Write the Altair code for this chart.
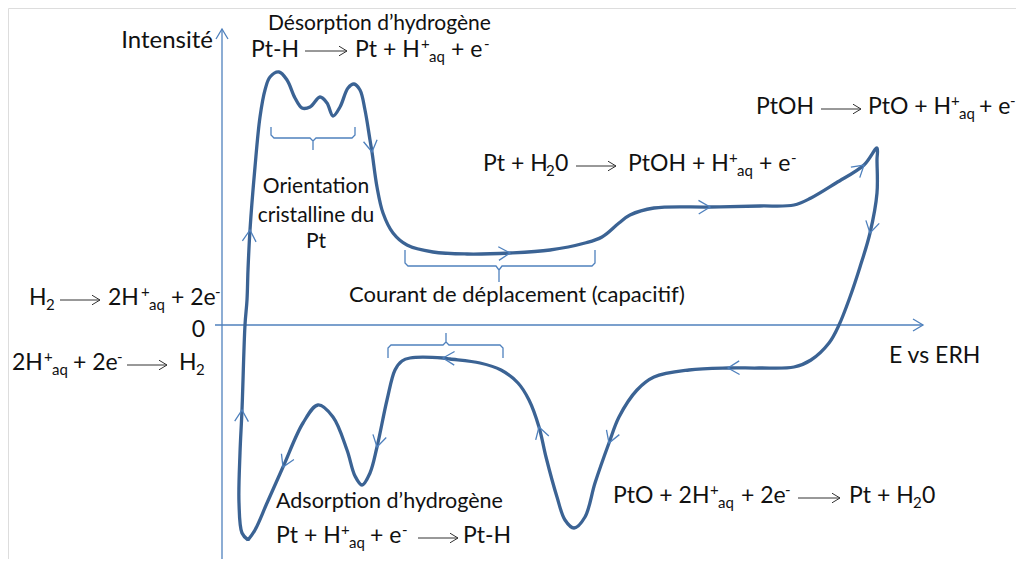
import math
import altair as alt
import pandas as pd

# ---------------------------------------------------------------
# Data (units: potential E and current I, origin at the axes crossing)
# ---------------------------------------------------------------
curve_E = [26, 20, 17, 18, 20, 23, 25, 26, 28, 33, 38, 43, 48, 57, 65, 73, 80, 88, 98, 105,
           111, 118, 126, 132, 138, 143, 148, 150, 155, 161, 171, 185, 211, 245, 288, 328, 363, 380, 397, 408,
           432, 488, 538, 572, 589, 614, 642, 655, 655, 655, 648, 638, 628, 617, 607, 589, 572, 537, 506, 467,
           432, 415, 397, 387, 373, 363, 352, 343, 335, 324, 317, 307, 296, 279, 258, 228, 221, 188, 180, 173,
           165, 155, 148, 140, 133, 125, 111, 96, 81, 61, 45, 33, 26]
curve_I = [-215, -208, -178, -128, -85, 0, 25, 55, 95, 158, 208, 235, 248, 253, 245, 227, 217, 218, 228, 222,
           209, 218, 237, 241, 235, 215, 185, 173, 138, 112, 92, 80, 73, 71, 72, 75, 82, 88, 102, 110,
           117, 118, 119, 120, 127, 142, 160, 177, 165, 132, 92, 58, 28, 0, -18, -35, -42, -43, -43, -45,
           -52, -65, -92, -118, -158, -192, -203, -195, -172, -132, -102, -75, -58, -45, -38, -34, -33, -33, -36, -45,
           -75, -122, -148, -160, -151, -125, -92, -80, -98, -142, -178, -205, -215]
arrow_at = [4, 8, 27, 34, 41, 46, 50, 58, 63, 70, 76, 81, 89]

# braces
brace_id = [1] * 11 + [2] * 11 + [3] * 11
brace_E = [49, 49, 52, 88, 91, 91, 91, 94, 130, 133, 133,
           183, 183, 186, 274, 277, 277, 277, 280, 370, 373, 373,
           166, 166, 169, 221, 224, 224, 224, 227, 278, 281, 281]
brace_I = [198, 190, 187, 187, 184, 175, 184, 187, 187, 190, 198,
           75, 62, 59, 59, 55, 43, 55, 59, 59, 62, 75,
           -33, -23, -20, -20, -17, -8, -17, -20, -20, -23, -33]

# axes
axis_E1 = [0, -7]
axis_E2 = [0, 701]
axis_I1 = [-242, 0]
axis_I2 = [296, 0]
axis_tip_E = [0, 701]
axis_tip_I = [296, 0]
axis_tip_ang = [270, 0]

# reaction equations: baselines of the lines
line_base = [268, 154, 211, 20, -45, -218, -178]
seg_line = [0, 0, 0, 0, 0, 0,
            1, 1, 1, 1, 1, 1, 1, 1,
            2, 2, 2, 2, 2, 2,
            3, 3, 3, 3, 3, 3, 3,
            4, 4, 4, 4, 4, 4, 4,
            5, 5, 5, 5, 5, 5,
            6, 6, 6, 6, 6, 6, 6, 6]
seg_text = ["Pt-H", "Pt + H", "+", "aq", "+ e", "-",
            "Pt + H", "2", "0", "PtOH + H", "+", "aq", "+ e", "-",
            "PtOH", "PtO + H", "+", "aq", "+ e", "-",
            "H", "2", "2H", "+", "aq", "+ 2e", "-",
            "2H", "+", "aq", "+ 2e", "-", "H", "2",
            "Pt + H", "+", "aq", "+ e", "-", "Pt-H",
            "PtO + 2H", "+", "aq", "+ 2e", "-", "Pt + H", "2", "0"]
seg_role = ["n", "n", "sup", "sub", "n", "sup",
            "n", "sub", "n", "n", "sup", "sub", "n", "sup",
            "n", "n", "sup", "sub", "n", "sup",
            "n", "sub", "n", "sup", "sub", "n", "sup",
            "n", "sup", "sub", "n", "sup", "n", "sub",
            "n", "sup", "sub", "n", "sup", "n",
            "n", "sup", "sub", "n", "sup", "n", "sub", "n"]
seg_E = [29, 133, 199, 207, 229, 262,
         261, 324, 333, 406, 507, 515, 537, 569,
         534, 646, 729, 737, 757, 788,
         -193, -176, -114, -81, -73, -51, -7,
         -210, -178, -170, -149, -105, -43, -26,
         54, 119, 127, 148, 180, 241,
         391, 488, 496, 519, 563, 627, 691, 700]

# reaction arrows inside the equations
rx_E1 = [83, 354, 599, -162, -95, 196, 576]
rx_E2 = [125, 394, 639, -122, -55, 236, 618]
rx_I = [274, 159, 216, 25, -40, -213, -173]

# free labels
lab_text = ["Désorption d’hydrogène", "Courant de déplacement (capacitif)",
            "Adsorption d’hydrogène", "E vs ERH"]
lab_E = [46, 127, 54, 667]
lab_I = [295, 23, -183, -38]
lab_size = [21, 22, 21.5, 23]

cen_text = ["Orientation", "cristalline du", "Pt"]
cen_E = [94, 94, 94]
cen_I = [132, 103, 77]

right_text = ["Intensité", "0"]
right_E = [-9, -17]
right_I = [277, -12]
right_size = [24, 23]

# ---------------------------------------------------------------
FONT = "Lato"
CURVE = "#3b6394"
LIGHT = "#4f81bd"
INK = "#111111"

xs = alt.Scale(domain=[-214, 794], nice=False, zero=False)
ys = alt.Scale(domain=[-234, 317], nice=False, zero=False)


def X(f):
    return alt.X(f, type="quantitative", scale=xs, axis=None)


def Y(f):
    return alt.Y(f, type="quantitative", scale=ys, axis=None)


curve_df = pd.DataFrame({"E": curve_E, "I": curve_I, "k": range(len(curve_E))})

arr_rows = []
for i in arrow_at:
    dx = curve_E[i + 1] - curve_E[i - 1]
    dy = -(curve_I[i + 1] - curve_I[i - 1])
    ang = math.degrees(math.atan2(dy, dx)) % 360
    arr_rows.append({"E": curve_E[i], "I": curve_I[i], "ang": ang})
arr_df = pd.DataFrame(arr_rows)

brace_df = pd.DataFrame({"b": brace_id, "E": brace_E, "I": brace_I,
                         "k": range(len(brace_E))})
axis_df = pd.DataFrame({"E1": axis_E1, "E2": axis_E2, "I1": axis_I1, "I2": axis_I2})
tip_df = pd.DataFrame({"E": axis_tip_E, "I": axis_tip_I, "ang": axis_tip_ang})

size_map = {"n": 23, "sup": 15, "sub": 15}
off_map = {"n": 0, "sup": 8, "sub": -5}
seg_df = pd.DataFrame({
    "t": seg_text,
    "E": seg_E,
    "I": [line_base[l] + off_map[r] for l, r in zip(seg_line, seg_role)],
    "fs": [size_map[r] for r in seg_role],
})
rx_df = pd.DataFrame({"E1": rx_E1, "E2": rx_E2, "I": rx_I})
lab_df = pd.DataFrame({"t": lab_text, "E": lab_E, "I": lab_I, "fs": lab_size})
cen_df = pd.DataFrame({"t": cen_text, "E": cen_E, "I": cen_I})
right_df = pd.DataFrame({"t": right_text, "E": right_E, "I": right_I, "fs": right_size})

CHEV = "M-1,-0.6L0,0L-1,0.6"

axes = alt.Chart(axis_df).mark_rule(color=LIGHT, strokeWidth=1.3).encode(
    x=X("E1"), x2="E2", y=Y("I1"), y2="I2")
tips = alt.Chart(tip_df).mark_point(shape=CHEV, filled=False, color=LIGHT, strokeWidth=1.3,
                                    size=400, opacity=1).encode(
    x=X("E"), y=Y("I"), angle=alt.Angle("ang:Q", scale=None))
curve = alt.Chart(curve_df).mark_line(color=CURVE, strokeWidth=3.3, interpolate="catmull-rom",
                                      strokeJoin="round").encode(
    x=X("E"), y=Y("I"), order="k:Q")
chevs = alt.Chart(arr_df).mark_point(shape=CHEV, filled=False, color=LIGHT, strokeWidth=1.3,
                                     size=520, opacity=1).encode(
    x=X("E"), y=Y("I"), angle=alt.Angle("ang:Q", scale=None))
braces = alt.Chart(brace_df).mark_line(color=LIGHT, strokeWidth=1.3).encode(
    x=X("E"), y=Y("I"), detail="b:N", order="k:Q")
segs = alt.Chart(seg_df).mark_text(align="left", baseline="alphabetic", font=FONT, color=INK).encode(
    x=X("E"), y=Y("I"), text="t:N", size=alt.Size("fs:Q", scale=None))
rx_shaft = alt.Chart(rx_df).mark_rule(color="#333333", strokeWidth=1).encode(
    x=X("E1"), x2="E2", y=Y("I"))
rx_head = alt.Chart(rx_df).mark_point(shape=CHEV, filled=False, color="#333333", strokeWidth=1,
                                      size=256, opacity=1).encode(
    x=X("E2"), y=Y("I"), angle=alt.value(0))
labs = alt.Chart(lab_df).mark_text(align="left", baseline="alphabetic", font=FONT, color=INK).encode(
    x=X("E"), y=Y("I"), text="t:N", size=alt.Size("fs:Q", scale=None))
cens = alt.Chart(cen_df).mark_text(align="center", baseline="alphabetic", font=FONT, color=INK,
                                   fontSize=21).encode(
    x=X("E"), y=Y("I"), text="t:N")
rights = alt.Chart(right_df).mark_text(align="right", baseline="alphabetic", font=FONT, color=INK).encode(
    x=X("E"), y=Y("I"), text="t:N", size=alt.Size("fs:Q", scale=None))

chart = alt.layer(axes, tips, braces, curve, chevs, rx_shaft, rx_head, segs, labs, cens, rights).properties(
    width=1008, height=551, padding=0,
    autosize=alt.AutoSizeParams(type="none"),
).configure_view(stroke=None).configure(background="white")

chart.save("out.html", embed_options={"renderer": "svg", "actions": False})
